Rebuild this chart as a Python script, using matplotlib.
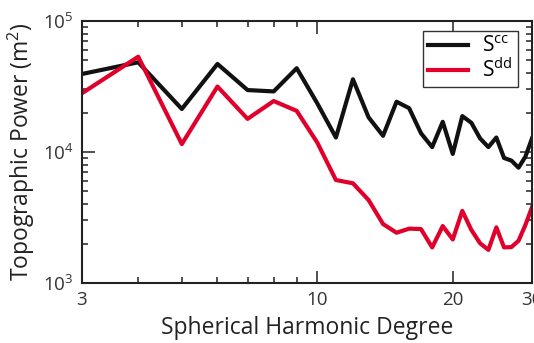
import matplotlib
matplotlib.use("Agg")
import matplotlib.pyplot as plt
from matplotlib.ticker import FixedLocator, NullFormatter, LogLocator

plt.rcParams["font.family"] = ["Open Sans", "DejaVu Sans"]
plt.rcParams["mathtext.fontset"] = "custom"
plt.rcParams["mathtext.rm"] = "Open Sans"
plt.rcParams["mathtext.it"] = "Open Sans:italic"

# Степени и спектры мощности
degree = list(range(3, 31))
s_cc = [39400, 48400, 21300, 47000, 29700, 29000, 43600, 23500, 12900, 35900,
        18400, 13300, 24200, 21600, 13900, 10900, 17000, 9660, 18800, 16700,
        12700, 10900, 12900, 9000, 8600, 7590, 9200, 12700]
s_dd = [28100, 53400, 11500, 31600, 17900, 24500, 20600, 11800, 6110, 5770,
        4300, 2820, 2420, 2600, 2580, 1870, 2720, 2150, 3550, 2540,
        2010, 1790, 2660, 1870, 1880, 2100, 2770, 3790]
x_ticks = [3, 10, 20, 30]
x_minor = [4, 5, 6, 7, 8, 9]

fig = plt.figure(figsize=(5.34, 3.43), dpi=100)
ax = fig.add_axes([82 / 534, 60 / 343, 450 / 534, 262 / 343])

ax.plot(degree, s_cc, color="#111111", lw=3.0, label=r"S$^{\rm cc}$")
ax.plot(degree, s_dd, color="#e0002b", lw=3.0, label=r"S$^{\rm dd}$")

ax.set_xscale("log")
ax.set_yscale("log")
ax.set_xlim(3, 30)
ax.set_ylim(1e3, 1e5)

ax.xaxis.set_major_locator(FixedLocator(x_ticks))
ax.xaxis.set_minor_locator(FixedLocator(x_minor))
ax.set_xticklabels([str(t) for t in x_ticks])
ax.xaxis.set_minor_formatter(NullFormatter())
ax.yaxis.set_minor_locator(LogLocator(base=10, subs=range(2, 10)))
ax.yaxis.set_minor_formatter(NullFormatter())

ax.tick_params(which="both", direction="in", top=True, right=True,
               width=1.1, colors="#222222", labelcolor="#333333")
ax.tick_params(which="major", length=9, labelsize=13.5, pad=6)
ax.tick_params(which="minor", length=4.5)
for sp in ax.spines.values():
    sp.set_linewidth(1.5)
    sp.set_color("#222222")

ax.set_xlabel("Spherical Harmonic Degree", fontsize=16.5, color="#222222", labelpad=5)
ax.set_ylabel("Topographic Power (m$^2$)", fontsize=16.5, color="#222222", labelpad=4)

leg = ax.legend(loc="upper right", fontsize=15, handlelength=1.9, fancybox=False,
                framealpha=1, edgecolor="#333333", borderpad=0.25,
                labelspacing=0.05, handletextpad=0.7, borderaxespad=0,
                bbox_to_anchor=(436 / 450, 252 / 262))
leg.get_frame().set_linewidth(1.0)

plt.savefig("out.png", dpi=100)
